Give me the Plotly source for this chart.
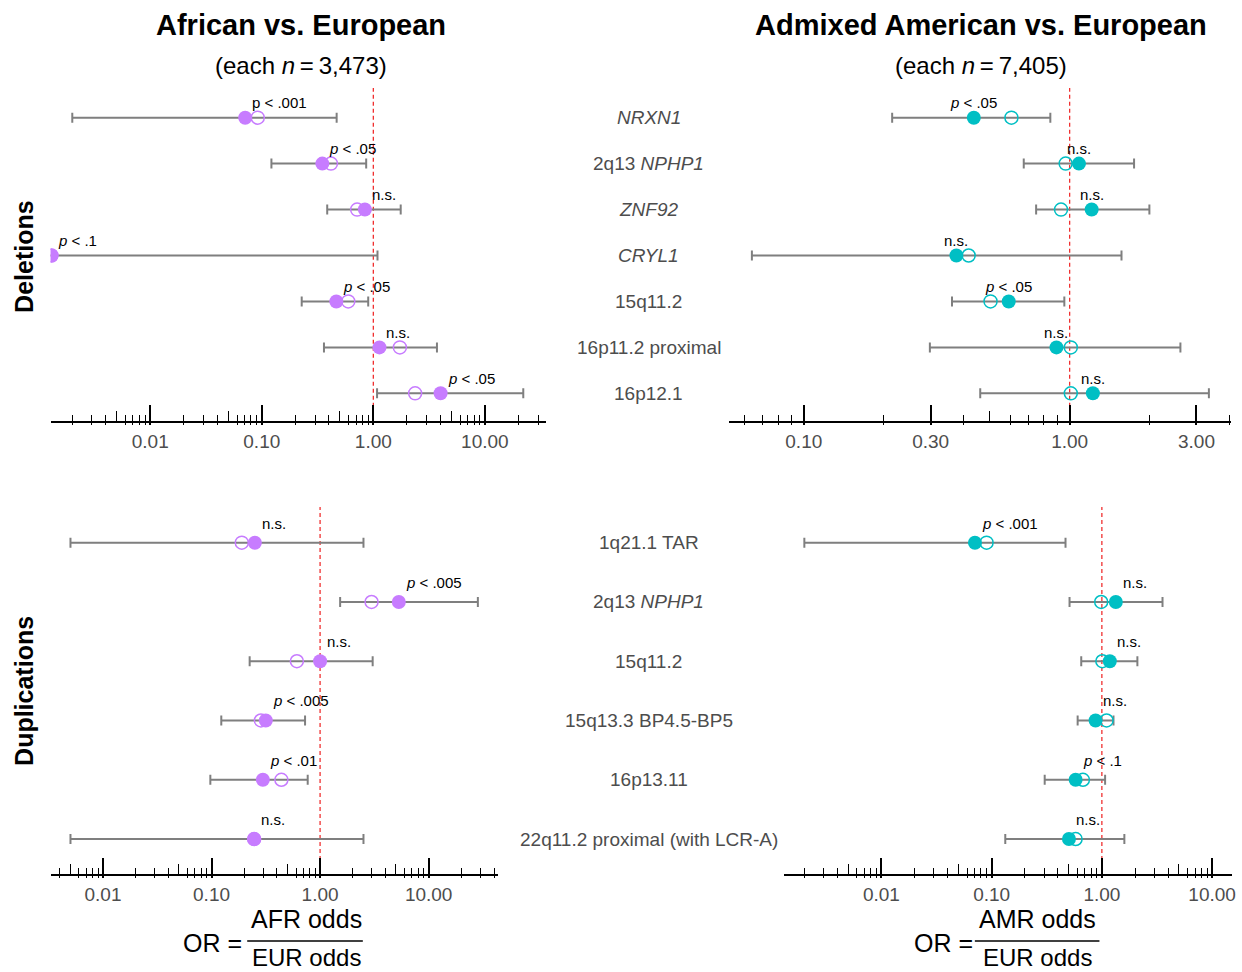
import numpy as np
import plotly.graph_objects as go

W, H = 1242, 972
FONT = "Liberation Sans, Arial, Helvetica, sans-serif"

# ---------------- data ----------------
DEL_LABELS = ["<i>NRXN1</i>", "2q13 <i>NPHP1</i>", "<i>ZNF92</i>", "<i>CRYL1</i>",
              "15q11.2", "16p11.2 proximal", "16p12.1"]
DUP_LABELS = ["1q21.1 TAR", "2q13 <i>NPHP1</i>", "15q11.2", "15q13.3 BP4.5-BP5",
              "16p13.11", "22q11.2 proximal (with LCR-A)"]

AFR_DEL_OR = [0.071, 0.349, 0.84, 0.0013, 0.466, 1.135, 4.01]
AFR_DEL_OPEN = [0.092, 0.417, 0.716, 0.0013, 0.596, 1.73, 2.37]
AFR_DEL_LO = [0.002, 0.122, 0.386, 0.0001, 0.228, 0.361, 1.08]
AFR_DEL_HI = [0.469, 0.863, 1.76, 1.09, 0.90, 3.72, 22.1]
AFR_DEL_P = ["p &lt; .001", "<i>p</i> &lt; .05", "n.s.", "<i>p</i> &lt; .1",
             "<i>p</i> &lt; .05", "n.s.", "<i>p</i> &lt; .05"]

AMR_DEL_OR = [0.436, 1.084, 1.21, 0.375, 0.59, 0.892, 1.223]
AMR_DEL_OPEN = [0.604, 0.966, 0.928, 0.417, 0.504, 1.01, 1.01]
AMR_DEL_LO = [0.215, 0.672, 0.748, 0.0638, 0.361, 0.298, 0.461]
AMR_DEL_HI = [0.846, 1.747, 1.995, 1.567, 0.955, 2.61, 3.34]
AMR_DEL_P = ["<i>p</i> &lt; .05", "n.s.", "n.s.", "n.s.", "<i>p</i> &lt; .05", "n.s.", "n.s."]

AFR_DUP_OR = [0.2507, 5.31, 1.0, 0.316, 0.297, 0.247]
AFR_DUP_OPEN = [0.19, 2.98, 0.611, 0.285, 0.44, 0.247]
AFR_DUP_LO = [0.00502, 1.53, 0.2245, 0.123, 0.0975, 0.00502]
AFR_DUP_HI = [2.51, 28.4, 3.05, 0.727, 0.769, 2.51]
AFR_DUP_P = ["n.s.", "<i>p</i> &lt; .005", "n.s.", "<i>p</i> &lt; .005", "<i>p</i> &lt; .01", "n.s."]

AMR_DUP_OR = [0.0706, 1.339, 1.18, 0.877, 0.578, 0.503]
AMR_DUP_OPEN = [0.090, 0.986, 1.01, 1.103, 0.673, 0.578]
AMR_DUP_LO = [0.002, 0.509, 0.65, 0.603, 0.303, 0.133]
AMR_DUP_HI = [0.468, 3.55, 2.10, 1.275, 1.07, 1.60]
AMR_DUP_P = ["<i>p</i> &lt; .001", "n.s.", "n.s.", "n.s.", "<i>p</i> &lt; .1", "n.s."]

LEFT_TICKS = [0.01, 0.1, 1, 10]
LEFT_TICKTEXT = ["0.01", "0.10", "1.00", "10.00"]
TR_TICKS = [0.1, 0.3, 1, 3]
TR_TICKTEXT = ["0.10", "0.30", "1.00", "3.00"]
TR_MINOR = [0.06, 0.07, 0.08, 0.09, 0.2, 0.4, 0.6, 0.7, 0.8, 0.9, 2, 4]
TR_MID = [0.5]

REF_OR = 1.0
PURPLE = "#C77CFF"
TEAL = "#00BFC4"


def log_minor(lo, hi):
    out = []
    for d in range(-4, 3):
        for m in [2, 3, 4, 6, 7, 8, 9]:
            v = m * 10.0 ** d
            if lo <= v <= hi:
                out.append(v)
    return out


def log_mid(lo, hi):
    return [5 * 10.0 ** d for d in range(-4, 3) if lo <= 5 * 10.0 ** d <= hi]


# ---------------- layout geometry ----------------
TOP_YDOM = [1 - 420.7 / H, 1 - 88 / H]
BOT_YDOM = [1 - 874 / H, 1 - 507 / H]
TOP_YRANGE = [0.404, 7.646]
BOT_YRANGE = [0.410, 6.602]

panels = [
    dict(ax="", yd=TOP_YDOM, yr=TOP_YRANGE, xd=[50.7, 547.3], xr=[-2.894, 1.544],
         orv=AFR_DEL_OR, op=AFR_DEL_OPEN, lo=AFR_DEL_LO, hi=AFR_DEL_HI, p=AFR_DEL_P,
         color=PURPLE, ticks=LEFT_TICKS, ttext=LEFT_TICKTEXT, minor=None, mid=None, center=False, ov=(5, 6)),
    dict(ax="2", yd=TOP_YDOM, yr=TOP_YRANGE, xd=[731.7, 1235.0], xr=[-1.280, 0.607],
         orv=AMR_DEL_OR, op=AMR_DEL_OPEN, lo=AMR_DEL_LO, hi=AMR_DEL_HI, p=AMR_DEL_P,
         color=TEAL, ticks=TR_TICKS, ttext=TR_TICKTEXT, minor=TR_MINOR, mid=TR_MID, center=True, ov=(7, 8)),
    dict(ax="3", yd=BOT_YDOM, yr=BOT_YRANGE, xd=[50.7, 499.3], xr=[-2.483, 1.636],
         orv=AFR_DUP_OR, op=AFR_DUP_OPEN, lo=AFR_DUP_LO, hi=AFR_DUP_HI, p=AFR_DUP_P,
         color=PURPLE, ticks=LEFT_TICKS, ttext=LEFT_TICKTEXT, minor=None, mid=None, center=False, ov=(9, 10)),
    dict(ax="4", yd=BOT_YDOM, yr=BOT_YRANGE, xd=[786.7, 1235.7], xr=[-2.882, 1.178],
         orv=AMR_DUP_OR, op=AMR_DUP_OPEN, lo=AMR_DUP_LO, hi=AMR_DUP_HI, p=AMR_DUP_P,
         color=TEAL, ticks=LEFT_TICKS, ttext=LEFT_TICKTEXT, minor=None, mid=None, center=False, ov=(11, 12)),
]

fig = go.Figure()
layout = dict(
    width=W, height=H, margin=dict(l=0, r=0, t=0, b=0),
    paper_bgcolor="white", plot_bgcolor="white",
    showlegend=False, hovermode=False,
    font=dict(family=FONT, color="black"),
)
annotations = []
shapes = []

for P in panels:
    xa = "x" + P["ax"]
    ya = "y" + P["ax"]
    n = len(P["orv"])
    ys = [n - i for i in range(n)]
    lo_r, hi_r = 10 ** P["xr"][0], 10 ** P["xr"][1]
    minor = P["minor"] if P["minor"] is not None else log_minor(lo_r, hi_r)
    mid = P["mid"] if P["mid"] is not None else log_mid(lo_r, hi_r)
    xdom = [P["xd"][0] / W, P["xd"][1] / W]

    # reference line OR = 1
    fig.add_trace(go.Scatter(x=[REF_OR, REF_OR], y=P["yr"], mode="lines", xaxis=xa, yaxis=ya,
                             line=dict(color="#F03030", width=1.3, dash="4px,3px"), hoverinfo="skip"))
    # CI error bars
    orv = np.array(P["orv"])
    fig.add_trace(go.Scatter(
        x=orv, y=ys, mode="markers", xaxis=xa, yaxis=ya,
        marker=dict(size=2, opacity=0),
        error_x=dict(type="data", symmetric=False,
                     array=np.array(P["hi"]) - orv, arrayminus=orv - np.array(P["lo"]),
                     color="#7F7F7F", thickness=2, width=5),
        hoverinfo="skip"))
    # open markers
    fig.add_trace(go.Scatter(x=P["op"], y=ys, mode="markers", xaxis=xa, yaxis=ya,
                             marker=dict(symbol="circle-open", size=13, color=P["color"],
                                         line=dict(width=1.5, color=P["color"])), hoverinfo="skip"))
    # filled markers
    fig.add_trace(go.Scatter(x=orv, y=ys, mode="markers", xaxis=xa, yaxis=ya,
                             marker=dict(symbol="circle", size=14, color=P["color"], line=dict(width=0)),
                             hoverinfo="skip"))

    # p-value labels
    for xv, yv, txt in zip(orv, ys, P["p"]):
        annotations.append(dict(
            x=float(np.log10(xv)), y=yv + 0.33, xref=xa, yref=ya, text=txt, showarrow=False,
            xanchor="center" if P["center"] else "left", xshift=0 if P["center"] else 5,
            yanchor="middle", font=dict(size=15, color="black", family=FONT)))

    key = "xaxis" + P["ax"]
    layout[key] = dict(
        type="log", range=P["xr"], domain=xdom, anchor=ya, side="bottom",
        showline=True, linecolor="black", linewidth=2, showgrid=False, zeroline=False,
        ticks="outside", ticklen=2, tickwidth=2, tickcolor="black",
        tickmode="array", tickvals=P["ticks"], ticktext=P["ttext"],
        tickfont=dict(size=19, color="#4D4D4D", family=FONT),
        minor=dict(ticks="outside", ticklen=2, tickwidth=1.2, tickcolor="black",
                   tickmode="array", tickvals=minor, showgrid=False),
        fixedrange=True,
    )
    layout["yaxis" + P["ax"]] = dict(domain=P["yd"], range=P["yr"], anchor=xa, visible=False,
                                     fixedrange=True)

    # overlay axes for inward log ticks
    oa, ob = P["ov"]
    layout["xaxis%d" % oa] = dict(
        type="log", range=P["xr"], domain=xdom, anchor=ya, overlaying=xa, side="bottom",
        showline=False, showgrid=False, zeroline=False, showticklabels=False,
        ticks="inside", ticklen=16, tickwidth=2, tickcolor="black",
        tickmode="array", tickvals=P["ticks"],
        minor=dict(ticks="inside", ticklen=6, tickwidth=1.2, tickcolor="black",
                   tickmode="array", tickvals=minor, showgrid=False),
        fixedrange=True)
    layout["xaxis%d" % ob] = dict(
        type="log", range=P["xr"], domain=xdom, anchor=ya, overlaying=xa, side="bottom",
        showline=False, showgrid=False, zeroline=False, showticklabels=False,
        ticks="inside", ticklen=10, tickwidth=1.2, tickcolor="black",
        tickmode="array", tickvals=mid, fixedrange=True)
    for o in (oa, ob):
        fig.add_trace(go.Scatter(x=[], y=[], xaxis="x%d" % o, yaxis=ya, mode="markers",
                                 hoverinfo="skip"))

# category labels in the middle
for labels, ya in ((DEL_LABELS, "y"), (DUP_LABELS, "y3")):
    n = len(labels)
    for i, lab in enumerate(labels):
        annotations.append(dict(x=651 / W, y=n - i, xref="paper", yref=ya, text=lab,
                                showarrow=False, xanchor="center", yanchor="middle",
                                font=dict(size=19, color="#4D4D4D", family=FONT)))


def px_y(py):
    return 1 - py / H


# titles
for cx, title, sub in ((302, "<b>African vs. European</b>", "(each <i>n</i>\u2009=\u20093,473)"),
                       (984, "<b>Admixed American vs. European</b>", "(each <i>n</i>\u2009=\u20097,405)")):
    annotations.append(dict(x=cx / W, y=px_y(25), xref="paper", yref="paper", text=title,
                            showarrow=False, xanchor="center", yanchor="middle",
                            font=dict(size=29, color="black", family=FONT)))
    annotations.append(dict(x=cx / W, y=px_y(65), xref="paper", yref="paper", text=sub,
                            showarrow=False, xanchor="center", yanchor="middle",
                            font=dict(size=24, color="black", family=FONT)))

# row-group titles
for cy, txt in ((256, "<b>Deletions</b>"), (691, "<b>Duplications</b>")):
    annotations.append(dict(x=24 / W, y=px_y(cy), xref="paper", yref="paper", text=txt,
                            showarrow=False, textangle=-90, xanchor="center", yanchor="middle",
                            font=dict(size=25, color="black", family=FONT)))

# OR formula axis titles
for orx, fx, fl0, fl1, num in ((213, 307, 248, 364, "AFR odds"), (947, 1041, 978, 1103, "AMR odds")):
    annotations.append(dict(x=orx / W, y=px_y(943), xref="paper", yref="paper", text="OR =",
                            showarrow=False, xanchor="center", yanchor="middle",
                            font=dict(size=25, color="black", family=FONT)))
    annotations.append(dict(x=fx / W, y=px_y(919), xref="paper", yref="paper", text=num,
                            showarrow=False, xanchor="center", yanchor="middle",
                            font=dict(size=25, color="black", family=FONT)))
    annotations.append(dict(x=fx / W, y=px_y(957), xref="paper", yref="paper", text="EUR odds",
                            showarrow=False, xanchor="center", yanchor="middle", borderpad=0,
                            font=dict(size=24, color="black", family=FONT)))
    shapes.append(dict(type="line", xref="paper", yref="paper", x0=fl0 / W, x1=fl1 / W,
                       y0=px_y(941), y1=px_y(941), line=dict(color="black", width=1.3)))

layout["annotations"] = annotations
layout["shapes"] = shapes
fig.update_layout(**layout)
fig.write_html("out.html", config={"displayModeBar": False},
               post_script="document.body.style.margin='0';document.body.style.overflow='hidden';")
